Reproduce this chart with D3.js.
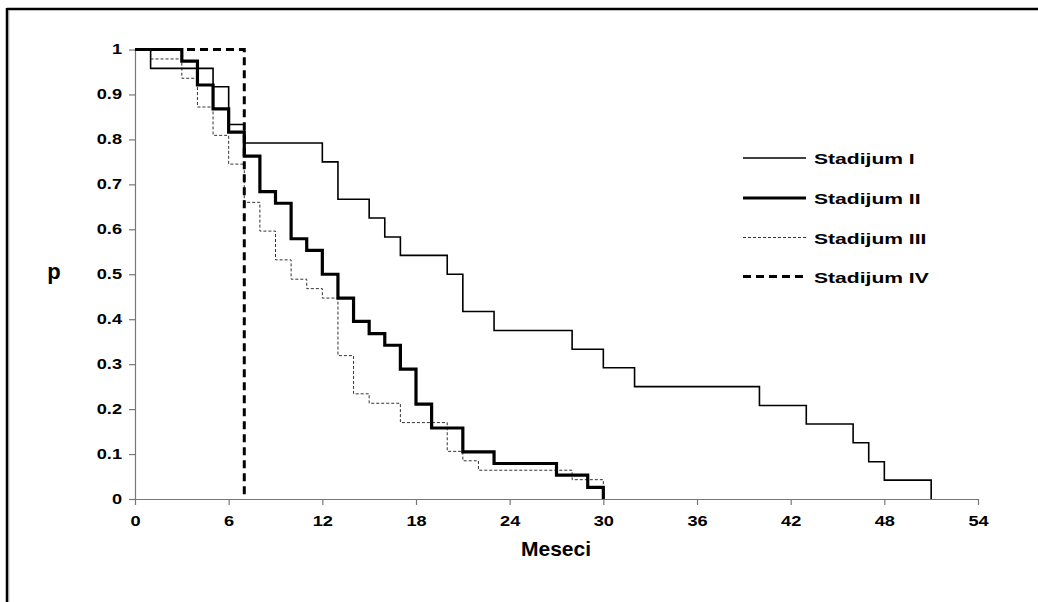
<!DOCTYPE html>
<html>
<head>
<meta charset="utf-8">
<script src="https://cdn.jsdelivr.net/npm/d3@7"></script>
<style>
  html, body { margin: 0; padding: 0; background: #fff; }
  svg { display: block; }
  text { font-family: "Liberation Sans", Arial, sans-serif; font-weight: bold; fill: #000; }
</style>
</head>
<body>
<svg id="chart" width="1038" height="602"></svg>
<script>
// ---- data ----
const seriesNames = ["Stadijum I", "Stadijum II", "Stadijum III", "Stadijum IV"];
const stage1Months = [1, 5, 6, 7, 12, 13, 15, 16, 17, 20, 21, 23, 28, 30, 32, 40, 43, 46, 47, 48, 51];
const stage1P = [0.958, 0.917, 0.833, 0.792, 0.750, 0.667, 0.625, 0.583, 0.542, 0.500, 0.417, 0.375, 0.333, 0.292, 0.250, 0.208, 0.167, 0.125, 0.083, 0.042, 0];
const stage2Months = [3, 4, 5, 6, 7, 8, 9, 10, 11, 12, 13, 14, 15, 16, 17, 18, 19, 21, 23, 27, 29, 30];
const stage2P = [0.974, 0.921, 0.868, 0.816, 0.763, 0.684, 0.658, 0.579, 0.553, 0.500, 0.447, 0.395, 0.368, 0.342, 0.289, 0.211, 0.158, 0.105, 0.079, 0.053, 0.026, 0];
const stage3Months = [1, 3, 4, 5, 6, 7, 8, 9, 10, 11, 12, 13, 14, 15, 17, 20, 21, 22, 28, 30];
const stage3P = [0.979, 0.936, 0.872, 0.809, 0.745, 0.660, 0.596, 0.532, 0.489, 0.468, 0.447, 0.319, 0.234, 0.213, 0.170, 0.106, 0.085, 0.064, 0.043, 0];
const stage4Months = [7];
const stage4P = [0];
const xTicks = [0, 6, 12, 18, 24, 30, 36, 42, 48, 54];
const yTicks = [0, 0.1, 0.2, 0.3, 0.4, 0.5, 0.6, 0.7, 0.8, 0.9, 1];
const xTitle = "Meseci";
const yTitle = "p";

// ---- layout ----
const svg = d3.select("#chart");
const x = d3.scaleLinear().domain([0, 54]).range([135, 978]);
const y = d3.scaleLinear().domain([0, 1]).range([499, 49.5]);

// frame (top and left border)
svg.append("line").attr("x1", 7).attr("x2", 1038).attr("y1", 9).attr("y2", 9)
  .attr("stroke", "#000").attr("stroke-width", 2.5);
svg.append("line").attr("x1", 7).attr("x2", 7).attr("y1", 8).attr("y2", 602)
  .attr("stroke", "#000").attr("stroke-width", 2.5);
svg.append("line").attr("x1", 8.8).attr("x2", 8.8).attr("y1", 10).attr("y2", 602)
  .attr("stroke", "#999").attr("stroke-width", 1);

// axes
const xAxis = d3.axisBottom(x).tickValues(xTicks).tickSize(6).tickSizeOuter(0).tickPadding(9)
  .tickFormat(d3.format("d"));
const yAxis = d3.axisLeft(y).tickValues(yTicks).tickSize(6).tickSizeOuter(0).tickPadding(12)
  .tickFormat(d => d === 0 ? "0" : d === 1 ? "1" : d3.format(".1f")(d));

const gx = svg.append("g").attr("transform", `translate(0,${y(0)})`).call(xAxis);
const gy = svg.append("g").attr("transform", `translate(${x(0)},0)`).call(yAxis);
[gx, gy].forEach(g => {
  g.select(".domain").attr("stroke", "#777").attr("stroke-width", 1.2);
  g.selectAll(".tick line").attr("stroke", "#777").attr("stroke-width", 1.2);
  g.selectAll(".tick text").attr("font-family", "Liberation Sans, Arial, sans-serif")
    .attr("font-weight", "bold").attr("font-size", 14).attr("fill", "#000");
});
// widen the tick labels like the reference
gy.selectAll(".tick text").attr("x", 0).attr("transform", "translate(-13,0) scale(1.3,1)");
gx.selectAll(".tick text").attr("transform", "translate(0,2) scale(1.3,1)");

// axis titles
svg.append("text").attr("x", 54).attr("y", 279).attr("text-anchor", "middle")
  .attr("font-size", 22).text(yTitle);
svg.append("text").attr("x", 556).attr("y", 556).attr("text-anchor", "middle")
  .attr("font-size", 21).text(xTitle);

// series
function pts(months, ps) {
  return [[0, 1]].concat(months.map((m, i) => [m, ps[i]]));
}
const series = [
  { name: seriesNames[0], data: pts(stage1Months, stage1P), width: 1.6, dash: null, color: "#000" },
  { name: seriesNames[1], data: pts(stage2Months, stage2P), width: 3.2, dash: null, color: "#000" },
  { name: seriesNames[2], data: pts(stage3Months, stage3P), width: 1, dash: "3,2", color: "#333" },
  { name: seriesNames[3], data: pts(stage4Months, stage4P), width: 3, dash: "8,5", color: "#000" }
];
const line = d3.line().x(d => x(d[0])).y(d => y(d[1])).curve(d3.curveStepAfter);

[2, 0, 1, 3].forEach(i => {
  const s = series[i];
  svg.append("path").attr("d", line(s.data)).attr("fill", "none")
    .attr("stroke", s.color).attr("stroke-width", s.width)
    .attr("stroke-dasharray", s.dash);
});

// legend
const legY = [158, 198, 237.5, 276.5];
series.forEach((s, i) => {
  const g = svg.append("g").attr("transform", `translate(0,${legY[i]})`);
  g.append("line").attr("x1", 743).attr("x2", 806).attr("y1", 0).attr("y2", 0)
    .attr("stroke", s.color).attr("stroke-width", s.width).attr("stroke-dasharray", s.dash);
  g.append("text").attr("x", 0).attr("y", 6).attr("font-size", 15.5)
    .attr("transform", "translate(814,0) scale(1.36,1)").text(s.name);
});
</script>
</body>
</html>
